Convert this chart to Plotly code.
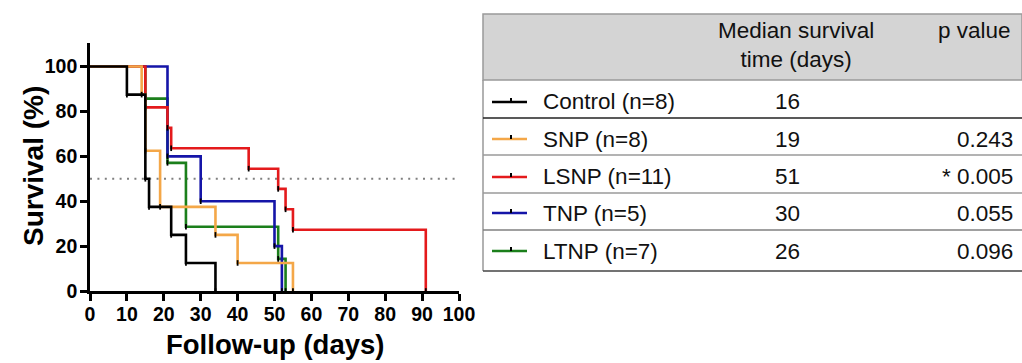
import plotly.graph_objects as go

W, H = 1022, 363

# ---- data (Kaplan-Meier steps) ----
groups = ["Control (n=8)", "SNP (n=8)", "LSNP (n=11)", "TNP (n=5)", "LTNP (n=7)"]
colors = ["#000000", "#F4A748", "#E41A1C", "#1515A8", "#1B7F1B"]

control_t = [0, 10, 15, 16, 22, 26, 34]
control_s = [100, 87.5, 50, 37.5, 25, 12.5, 0]

snp_t = [0, 14, 15, 19, 34, 40, 55]
snp_s = [100, 87.5, 62.5, 37.5, 25, 12.5, 0]

lsnp_t = [0, 15, 21, 22, 43, 51, 53, 55, 91]
lsnp_s = [100, 81.8, 72.7, 63.6, 54.5, 45.5, 36.4, 27.3, 0]

tnp_t = [0, 21, 30, 50, 52]
tnp_s = [100, 60, 40, 20, 0]

ltnp_t = [0, 15, 21, 26, 51, 53]
ltnp_s = [100, 85.7, 57.1, 28.6, 14.3, 0]

times = [control_t, snp_t, lsnp_t, tnp_t, ltnp_t]
survs = [control_s, snp_s, lsnp_s, tnp_s, ltnp_s]

median_days = ["16", "19", "51", "30", "26"]
p_values = ["", "0.243", "* 0.005", "0.055", "0.096"]

x_ticks = list(range(0, 101, 10))
y_ticks = list(range(0, 101, 20))

FONT = "Liberation Sans, Arial, sans-serif"


def px(x):
    return x / W


def py(y):
    return 1 - y / H


fig = go.Figure()

# draw order: LTNP, TNP, LSNP, SNP, Control (control on top)
order = [4, 3, 2, 1, 0]
for i in order:
    fig.add_trace(go.Scatter(
        x=times[i], y=survs[i], mode="lines",
        line=dict(color=colors[i], width=2.6, shape="hv"),
        name=groups[i], showlegend=False, hoverinfo="skip"))
for i in order:
    fig.add_trace(go.Scatter(
        x=times[i][1:], y=survs[i][1:], mode="markers",
        marker=dict(symbol="line-ns", size=4, line=dict(color="black", width=1.8)),
        showlegend=False, hoverinfo="skip", cliponaxis=False))

axis_common = dict(showline=True, linecolor="black", linewidth=2.6, ticks="outside",
                   ticklen=7, tickwidth=2.6, tickcolor="black", showgrid=False,
                   zeroline=False, mirror=False, automargin=False,
                   tickfont=dict(family=FONT, size=19.5, color="black", weight="bold"))

fig.update_layout(
    template="none",
    width=W, height=H, margin=dict(l=0, r=0, t=0, b=0, pad=0),
    paper_bgcolor="white", plot_bgcolor="white",
    xaxis=dict(domain=[px(90), px(459)], range=[0, 100], tickvals=x_ticks,
               ticklabelstandoff=-3, **axis_common),
    yaxis=dict(domain=[py(291), py(43)], range=[0, 110.5], tickvals=y_ticks,
               ticklabelstandoff=-1, **axis_common),
)

annotations = []
annotations.append(dict(text="Follow-up (days)", x=px(275), y=py(362), xref="paper", yref="paper",
                        showarrow=False, xanchor="center", yanchor="bottom",
                        font=dict(family=FONT, size=27.5, color="black", weight="bold")))
annotations.append(dict(text="Survival (%)", x=px(34), y=py(166), xref="paper", yref="paper",
                        showarrow=False, xanchor="center", yanchor="middle", textangle=-90,
                        font=dict(family=FONT, size=28, color="black", weight="bold")))

# ---- table ----
T_LEFT, T_RIGHT = 483, 1022
T_TOP, H_BOT = 14, 80
row_lines = [118, 155, 193, 230, 271]
row_text = [102, 139, 177, 213, 251]
line_cols = ["#222222", "#9a9a9a", "#9a9a9a", "#808080", "#444444"]
TFONT = dict(family=FONT, size=22.5, color="#111111")

shapes = []
# 50% reference line
shapes.append(dict(type="line", xref="x", yref="y", x0=0, x1=100, y0=50, y1=50,
                   line=dict(color="#808080", width=2, dash="2px,5.4px"), layer="below"))
shapes.append(dict(type="rect", xref="paper", yref="paper", x0=px(T_LEFT), x1=1,
                   y0=py(H_BOT), y1=py(T_TOP), fillcolor="#d4d4d4",
                   line=dict(color="#999999", width=1.5), layer="above"))
shapes.append(dict(type="line", xref="paper", yref="paper", x0=px(T_LEFT), x1=px(T_LEFT),
                   y0=py(row_lines[-1]), y1=py(H_BOT), line=dict(color="#999999", width=1.5)))
for yl, lc in zip(row_lines, line_cols):
    shapes.append(dict(type="line", xref="paper", yref="paper", x0=px(T_LEFT), x1=1,
                       y0=py(yl), y1=py(yl), line=dict(color=lc, width=1.5)))

for k, name in enumerate(groups):
    yt = row_text[k]
    shapes.append(dict(type="line", xref="paper", yref="paper", x0=px(492), x1=px(527),
                       y0=py(yt), y1=py(yt), line=dict(color=colors[k], width=2.5)))
    shapes.append(dict(type="line", xref="paper", yref="paper", x0=px(511), x1=px(511),
                       y0=py(yt), y1=py(yt - 4), line=dict(color="black", width=2)))
    annotations.append(dict(text=name, x=px(541), y=py(yt), xref="paper", yref="paper",
                            showarrow=False, xanchor="left", yanchor="middle", font=TFONT))
    annotations.append(dict(text=median_days[k], x=px(787), y=py(yt), xref="paper", yref="paper",
                            showarrow=False, xanchor="center", yanchor="middle", font=TFONT))
    if p_values[k]:
        annotations.append(dict(text=p_values[k], x=px(1015), y=py(yt), xref="paper", yref="paper",
                                showarrow=False, xanchor="right", yanchor="middle", font=TFONT))

annotations.append(dict(text="Median survival<br>time (days)", x=px(796), y=py(45), xref="paper",
                        yref="paper", showarrow=False, xanchor="center", yanchor="middle",
                        align="center", font=TFONT))
annotations.append(dict(text="p value", x=px(1013), y=py(31), xref="paper", yref="paper",
                        showarrow=False, xanchor="right", yanchor="middle", font=TFONT))

fig.update_layout(shapes=shapes, annotations=annotations)

fig.write_html("out.html", config={"displayModeBar": False},
               post_script="document.body.style.margin='0';document.body.style.padding='0';"
                           "document.body.style.overflow='hidden';")
